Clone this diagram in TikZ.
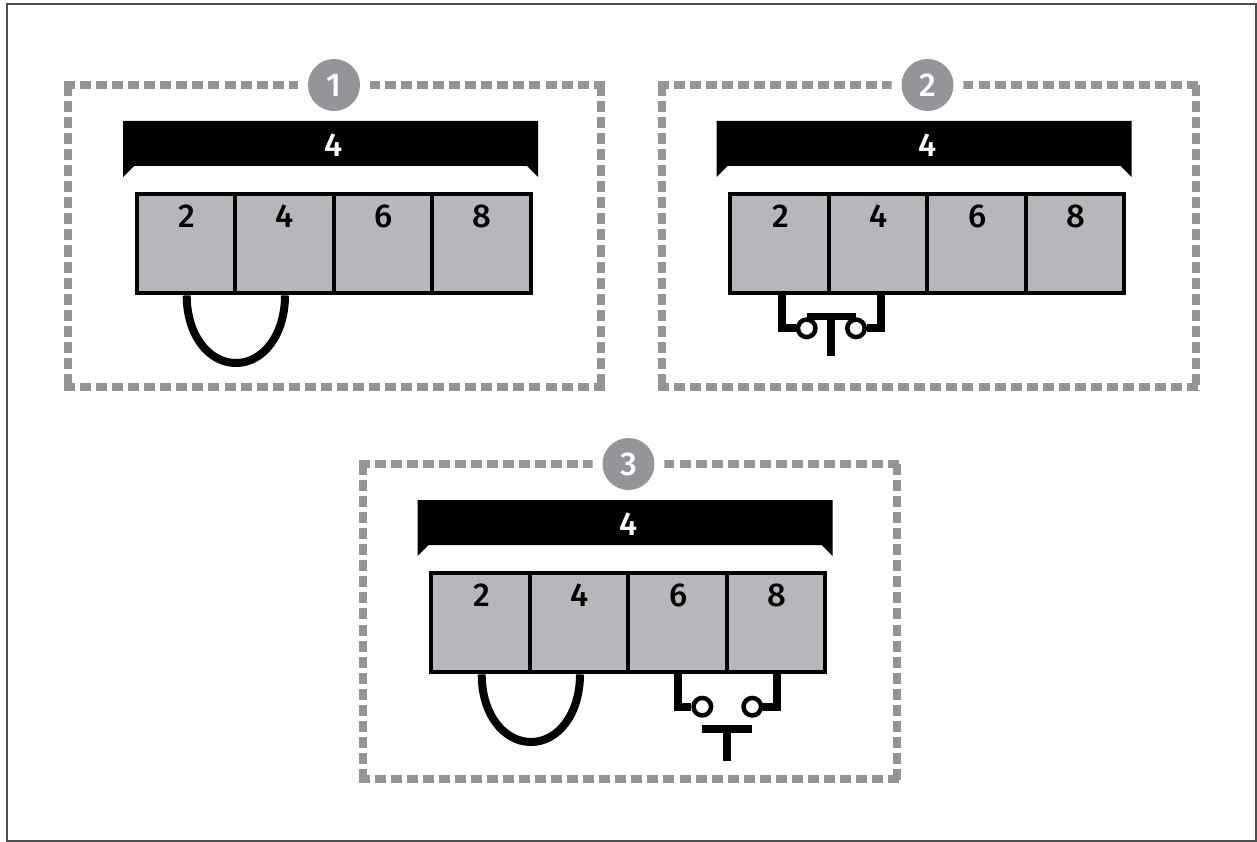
\documentclass[tikz,border=0pt]{standalone}
\usepackage{fontspec}
\setmainfont{Fira Sans Medium}
\definecolor{dashgray}{HTML}{939598}
\definecolor{cellgray}{HTML}{B6B7BA}
\definecolor{framegray}{HTML}{4D4D4D}
\tikzset{
  panelside/.style={draw=dashgray,line width=8pt,dash pattern=on 11pt off 5.05pt},
  badge/.style={circle,fill=dashgray,text=white,minimum size=52pt,inner sep=0pt,font=\fontsize{33}{33}\selectfont\addfontfeature{Numbers=Lining}},
  badgegap/.style={circle,fill=white,minimum size=72pt,inner sep=0pt},
  cell/.style={draw=black,fill=cellgray,line width=4pt,minimum width=98.5pt,minimum height=99.5pt,inner sep=0pt},
  celltext/.style={text=black,font=\fontsize{33}{33}\selectfont\addfontfeature{Numbers=Lining},inner sep=0pt},
  bartext/.style={text=white,font=\fontsize{33}{33}\selectfont\addfontfeature{Numbers=Lining},inner sep=0pt},
  wire/.style={draw=black,line width=8pt,line cap=butt,line join=miter},
  contact/.style={circle,draw=black,fill=white,line width=4.5pt,minimum size=17.5pt,inner sep=0pt},
}
% #1 name, #2 x offset, #3 y offset, #4 panel bottom, #5 panel width, #6 badge x, #7 badge text
\newcommand{\panelbase}[7]{%
  \begin{scope}[shift={(#2,#3)}]
    \draw[panelside] (64,85) -- (68+#5+4,85);
    \draw[panelside] (68,85) -- (68,#4+4);
    \draw[panelside] (64,#4) -- (68+#5+4,#4);
    \draw[panelside] (68+#5,85) -- (68+#5,#4+4);
    \node[badgegap] (#1gap) at (#6,85) {};
    \node[badge] (#1badge) at (#6,85) {#7};
    \fill[black] (123,177) -- (123,121) -- (538,121) -- (538,177) -- (527,166) -- (134,166) -- cycle;
    \node[bartext] (#1bar) at (334,145) {4};
    \node[cell,anchor=center] (#1a) at (186,243.7) {};
    \node[cell,anchor=center] (#1b) at (284.5,243.7) {};
    \node[cell,anchor=center] (#1c) at (383,243.7) {};
    \node[cell,anchor=center] (#1d) at (481.5,243.7) {};
    \node[celltext] (#1ta) at (187,216) {2};
    \node[celltext] (#1tb) at (285,216) {4};
    \node[celltext] (#1tc) at (384,216) {6};
    \node[celltext] (#1td) at (482,216) {8};
  \end{scope}}
\begin{document}
\begin{tikzpicture}[x=1pt,y=-1pt]
\useasboundingbox (0,0) rectangle (1257,842);
\fill[white] (0,0) rectangle (1257,842);
\draw[framegray,line width=2.5pt] (7,4) -- (1256,4) -- (1256,841) -- (7,841) -- cycle;

\panelbase{p}{0}{0}{387}{533}{334}{1}
\panelbase{q}{593.5}{0}{387}{534}{334}{2}
\panelbase{r}{294.5}{379}{400}{534}{334}{3}

% panel 1: jumper
\draw[wire] ([xshift=0.7pt]pa.south) .. controls +(0,40) and (209,363) .. (236,363) coordinate (pj) .. controls (263,363) and (285,335) .. ([xshift=0.5pt]pb.south);

% panel 2: closed push button
\coordinate (qm) at (831,316);
\node[contact] (qcl) at (806.7,328.3) {};
\node[contact] (qcr) at (856,328.3) {};
\draw[wire] ([xshift=2.2pt]qa.south) |- (qcl.west);
\draw[wire] ([xshift=2.7pt]qb.south) |- (qcr.east);
\draw[black,line width=7pt] (qcl.center |- qm) -- (qcr.center |- qm);
\coordinate (qe) at (831,356);
\draw[black,line width=8pt] (qm) -- (qe);

% panel 3: jumper and open push button
\draw[wire] ([xshift=1.2pt]ra.south) .. controls +(0,40) and (504,742) .. (531,742) coordinate (rj) .. controls (558,742) and (580,714) .. ([xshift=1pt]rb.south);
\coordinate (rm) at (727,729.3);
\node[contact] (rcl) at (702.3,706.7) {};
\node[contact] (rcr) at (752.3,706.7) {};
\draw[wire] ([xshift=0.2pt]rc.south) |- (rcl.west);
\draw[wire] ([xshift=0.7pt]rd.south) |- (rcr.east);
\draw[black,line width=8pt] (rcl.center |- rm) -- (rcr.center |- rm);
\coordinate (re) at (727,761);
\draw[black,line width=8pt] (rm) -- (re);
\end{tikzpicture}
\end{document}
